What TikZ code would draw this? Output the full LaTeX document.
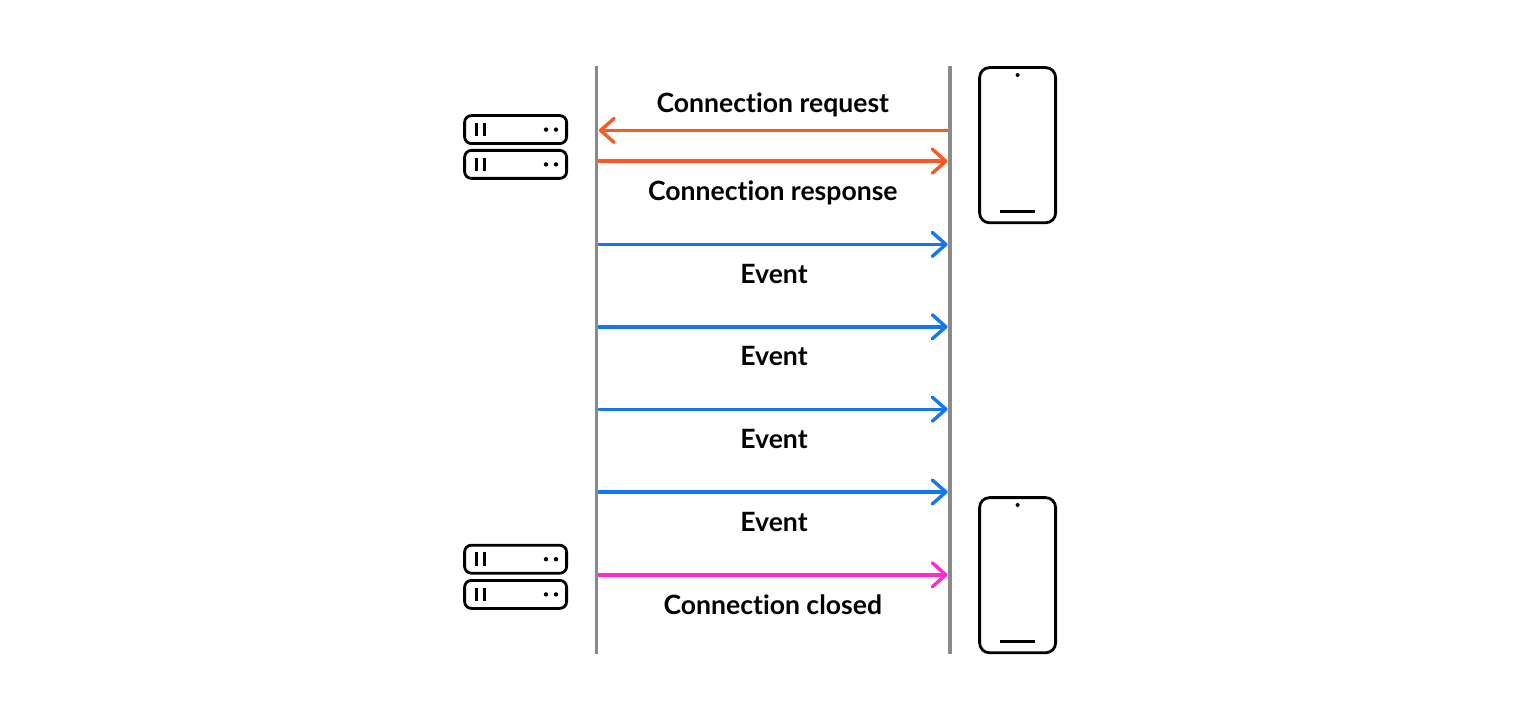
\documentclass[tikz,border=0pt]{standalone}
\usepackage{fontspec}
\setmainfont{Lato}[Ligatures=NoCommon]
\usetikzlibrary{arrows.meta,calc}
\definecolor{railgray}{RGB}{138,138,138}
\definecolor{handorange}{RGB}{255,87,34}
\definecolor{eventblue}{RGB}{20,119,240}
\definecolor{closepink}{RGB}{255,43,208}
\tikzset{
  rail/.style={railgray,line width=0.09cm},
  flow/.style={-{Straight Barb[length=3.4mm,width=6mm,round]},line width=0.085cm,line cap=round},
  lab/.style={font=\fontsize{18.9}{22}\selectfont\bfseries,text=black,inner sep=0pt},
  server/.style={draw=black,line width=0.07cm,rounded corners=0.17cm,fill=white,
                 minimum width=2.55cm,minimum height=0.7cm,inner sep=0pt},
  phone/.style={draw=black,line width=0.07cm,rounded corners=0.25cm,fill=white,
                minimum width=1.9cm,minimum height=3.88cm,inner sep=0pt},
  part/.style={black,line width=0.06cm},
}
\begin{document}
\begin{tikzpicture}[x=1cm,y=1cm]
  \path[use as bounding box] (0,0) rectangle (38,18);

  % rail ends
  \coordinate (leftTop) at (14.91,16.35);
  \coordinate (leftBot) at (14.91,1.65);
  \coordinate (rightTop) at (23.75,16.35);
  \coordinate (rightBot) at (23.75,1.65);

  % messages
  \foreach \name/\y in {req/14.74,resp/13.97,evA/11.89,evB/9.83,evC/7.77,evD/5.7,closed/3.63}{
    \coordinate (\name L) at (14.97,\y);
    \coordinate (\name R) at (23.69,\y);
  }
  \draw[flow,handorange] (reqR) -- (reqL);
  \draw[flow,handorange] (respL) -- (respR);
  \draw[flow,eventblue] (evAL) -- (evAR);
  \draw[flow,eventblue] (evBL) -- (evBR);
  \draw[flow,eventblue] (evCL) -- (evCR);
  \draw[flow,eventblue] (evDL) -- (evDR);
  \draw[flow,closepink] (closedL) -- (closedR);

  \draw[rail] (leftTop) -- (leftBot);
  \draw[rail] (rightTop) -- (rightBot);

  \node[lab] (reqLab) at (19.32,15.39) {Connection request};
  \node[lab] (respLab) at (19.32,13.17) {Connection response};
  \node[lab] (evALab) at (19.35,11.15) {Event};
  \node[lab] (evBLab) at (19.35,9.09) {Event};
  \node[lab] (evCLab) at (19.35,7.03) {Event};
  \node[lab] (evDLab) at (19.35,4.95) {Event};
  \node[lab] (closedLab) at (19.32,2.89) {Connection closed};

  % servers
  \foreach \name/\y in {srvA/14.76,srvB/13.89,srvC/4.02,srvD/3.14}{
    \node[server] (\name) at (12.89,\y) {};
    \draw[part] ($(\name.west)+(0.33,0.17)$) -- ++(0,-0.34);
    \draw[part] ($(\name.west)+(0.53,0.17)$) -- ++(0,-0.34);
    \fill ($(\name.east)+(-0.55,0)$) circle (0.055);
    \fill ($(\name.east)+(-0.3,0)$) circle (0.055);
  }

  % phones
  \foreach \name/\y in {phoneA/14.37,phoneB/3.62}{
    \node[phone] (\name) at (25.44,\y) {};
    \fill ($(\name.north)+(0,-0.22)$) circle (0.05);
    \draw[part] ($(\name.south)+(-0.43,0.32)$) -- ++(0.86,0);
  }
\end{tikzpicture}
\end{document}
